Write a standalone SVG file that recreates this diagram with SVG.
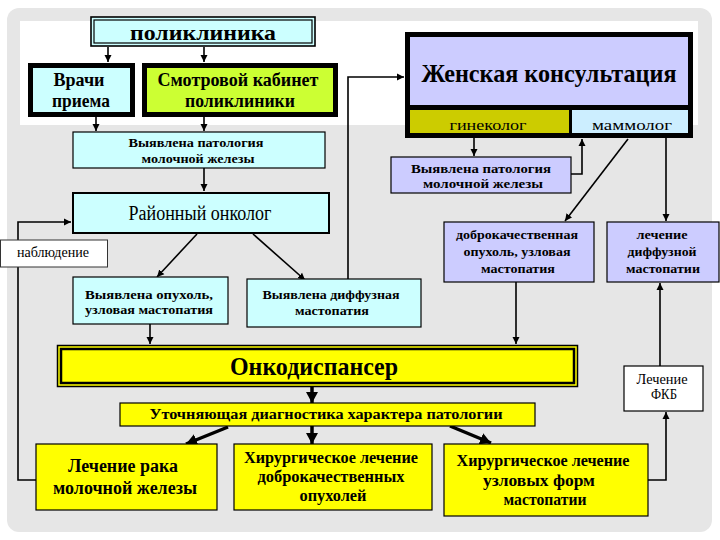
<svg xmlns="http://www.w3.org/2000/svg" width="720" height="540" viewBox="0 0 720 540" font-family="Liberation Serif, DejaVu Serif, serif">
<defs>
<marker id="ah" markerWidth="8" markerHeight="8" refX="7" refY="4" orient="auto" markerUnits="userSpaceOnUse"><path d="M0,0.5 L7,4 L0,7.5 Z" fill="#000"/></marker>
<marker id="ahb" markerWidth="12" markerHeight="12" refX="11" refY="6" orient="auto" markerUnits="userSpaceOnUse"><path d="M0,0 L11,6 L0,12 Z" fill="#000"/></marker>
<style>
text{fill:#000;text-anchor:middle}
.b{font-weight:bold}
.c{stroke:#000;stroke-width:1.6;fill:none}
.ct{stroke:#000;stroke-width:3.5;fill:none}
.thin{stroke:#000;stroke-width:1.2}
.thick{stroke:#000;stroke-width:5}
</style>
</defs>
<rect width="720" height="540" fill="#fff"/>
<rect x="7" y="8" width="705" height="524" rx="12" fill="#e6e6e6"/>
<rect x="20" y="21" width="678" height="104" fill="#fff"/>

<g id="connectors">
<path class="c" d="M108,47 V62" marker-end="url(#ah)"/>
<path class="c" d="M204,47 V62" marker-end="url(#ah)"/>
<path class="c" d="M96,117 V131" marker-end="url(#ah)"/>
<path class="c" d="M204,117 V131" marker-end="url(#ah)"/>
<path class="c" d="M204,168 V191" marker-end="url(#ah)"/>
<path class="c" d="M348,279 V77 H404" marker-end="url(#ah)"/>
<path class="c" d="M474,138 V156" marker-end="url(#ah)"/>
<path class="c" d="M571,174 H582 V139" marker-end="url(#ah)"/>
<path class="c" d="M628,139 L565,221" marker-end="url(#ah)"/>
<path class="c" d="M666,138 V221" marker-end="url(#ah)"/>
<path class="c" d="M197,234 L157,277" marker-end="url(#ah)"/>
<path class="c" d="M253,234 L305,280" marker-end="url(#ah)"/>
<path class="c" d="M150,324 V344" marker-end="url(#ah)"/>
<path class="c" d="M516,282 V344" marker-end="url(#ah)"/>
<path class="c" d="M648,480 H666 V412" marker-end="url(#ah)"/>
<path class="c" d="M660,366 V283" marker-end="url(#ah)"/>
<path class="c" d="M36,480 H18 V222 H71" marker-end="url(#ah)"/>
<path class="ct" d="M312,387 V403" marker-end="url(#ahb)"/>
<path class="ct" d="M312,426 V444" marker-end="url(#ahb)"/>
<path class="ct" d="M228,427 L186,444" marker-end="url(#ahb)"/>
<path class="ct" d="M450,426 L491,443" marker-end="url(#ahb)"/>
</g>

<g id="poliklinika">
<rect x="91" y="17" width="224" height="29" fill="#ccffff" stroke="#000" stroke-width="1.6"/>
<rect x="94" y="20" width="218" height="23" fill="none" stroke="#000" stroke-width="1.2"/>
<text class="b" x="203" y="40" font-size="22" textLength="146" lengthAdjust="spacingAndGlyphs">поликлиника</text>
</g>

<g id="vrachi">
<rect x="30.5" y="65.5" width="102" height="49" fill="#ccffff" class="thick"/>
<text class="b" x="79" y="86" font-size="19" textLength="51" lengthAdjust="spacingAndGlyphs">Врачи</text>
<text class="b" x="81" y="107" font-size="19" textLength="58" lengthAdjust="spacingAndGlyphs">приема</text>
</g>

<g id="smotrovoy">
<rect x="144.5" y="65.5" width="191" height="49" fill="#ccff33" class="thick"/>
<text class="b" x="238" y="86" font-size="18" textLength="161" lengthAdjust="spacingAndGlyphs">Смотровой кабинет</text>
<text class="b" x="240" y="107" font-size="18" textLength="110" lengthAdjust="spacingAndGlyphs">поликлиники</text>
</g>

<g id="patologia-left">
<rect x="73" y="132" width="252" height="36" fill="#ccffff" class="thin"/>
<text class="b" x="196" y="147" font-size="13" textLength="135" lengthAdjust="spacingAndGlyphs">Выявлена патология</text>
<text class="b" x="198" y="163" font-size="13" textLength="113" lengthAdjust="spacingAndGlyphs">молочной железы</text>
</g>

<g id="zhenskaya">
<rect x="407.5" y="34.5" width="283" height="101" fill="#ccccff" class="thick"/>
<rect x="410" y="110" width="160" height="23" fill="#cccc00"/>
<rect x="571" y="110" width="117" height="23" fill="#cceeff"/>
<line x1="407" y1="107.5" x2="691" y2="107.5" stroke="#000" stroke-width="5"/>
<line x1="570.5" y1="108" x2="570.5" y2="135" stroke="#000" stroke-width="3"/>
<text class="b" x="549" y="82" font-size="25" textLength="255" lengthAdjust="spacingAndGlyphs">Женская консультация</text>
<text x="488" y="130" font-size="15" textLength="77" lengthAdjust="spacingAndGlyphs">гинеколог</text>
<text x="632" y="130" font-size="15" textLength="80" lengthAdjust="spacingAndGlyphs">маммолог</text>
</g>

<g id="patologia-right">
<rect x="391" y="157" width="180" height="36" fill="#ccccff" class="thin"/>
<text class="b" x="481" y="173" font-size="13" textLength="140" lengthAdjust="spacingAndGlyphs">Выявлена патология</text>
<text class="b" x="483" y="188" font-size="13" textLength="120" lengthAdjust="spacingAndGlyphs">молочной железы</text>
</g>

<g id="rayonny">
<rect x="73" y="193" width="256" height="40" fill="#ccffff" stroke="#000" stroke-width="2"/>
<text x="200" y="220" font-size="20" textLength="143" lengthAdjust="spacingAndGlyphs">Районный онколог</text>
</g>

<g id="nabludenie">
<rect x="0.5" y="240" width="107" height="27" fill="#fff" stroke="#333" stroke-width="1"/>
<text x="53" y="257" font-size="14" textLength="72" lengthAdjust="spacingAndGlyphs">наблюдение</text>
</g>

<g id="opuhol">
<rect x="73" y="277" width="155" height="47" fill="#ccffff" class="thin"/>
<text class="b" x="149" y="299" font-size="13" textLength="128" lengthAdjust="spacingAndGlyphs">Выявлена  опухоль,</text>
<text class="b" x="149" y="314" font-size="13" textLength="128" lengthAdjust="spacingAndGlyphs">узловая мастопатия</text>
</g>

<g id="diffuznaya">
<rect x="247" y="279" width="174" height="48" fill="#ccffff" class="thin"/>
<text class="b" x="331" y="299" font-size="13" textLength="137" lengthAdjust="spacingAndGlyphs">Выявлена диффузная</text>
<text class="b" x="332" y="315" font-size="13" textLength="74" lengthAdjust="spacingAndGlyphs">мастопатия</text>
</g>

<g id="dobrokach">
<rect x="444" y="222" width="150" height="60" fill="#ccccff" class="thin"/>
<text class="b" x="517" y="239" font-size="13" textLength="122" lengthAdjust="spacingAndGlyphs">доброкачественная</text>
<text class="b" x="517" y="256" font-size="13" textLength="107" lengthAdjust="spacingAndGlyphs">опухоль, узловая</text>
<text class="b" x="518" y="273" font-size="13" textLength="74" lengthAdjust="spacingAndGlyphs">мастопатия</text>
</g>

<g id="lechenie-diff">
<rect x="607" y="222" width="112" height="60" fill="#ccccff" class="thin"/>
<text class="b" x="662" y="239" font-size="13" textLength="51" lengthAdjust="spacingAndGlyphs">лечение</text>
<text class="b" x="662" y="256" font-size="13" textLength="69" lengthAdjust="spacingAndGlyphs">диффузной</text>
<text class="b" x="663" y="273" font-size="13" textLength="74" lengthAdjust="spacingAndGlyphs">мастопатии</text>
</g>

<g id="onkodispanser">
<rect x="57.5" y="345.5" width="520" height="41" fill="#ffff00" stroke="#000" stroke-width="1.5"/>
<rect x="61" y="349" width="513" height="34" fill="none" stroke="#000" stroke-width="2.5"/>
<text class="b" x="314" y="375" font-size="25" textLength="168" lengthAdjust="spacingAndGlyphs">Онкодиспансер</text>
</g>

<g id="fkb">
<rect x="624" y="366" width="79" height="45" fill="#fff" class="thin"/>
<text x="662" y="384" font-size="14" textLength="51" lengthAdjust="spacingAndGlyphs">Лечение</text>
<text x="664" y="399" font-size="14" textLength="26" lengthAdjust="spacingAndGlyphs">ФКБ</text>
</g>

<g id="utochnyayushaya">
<rect x="120" y="403" width="415" height="23" fill="#ffff00" class="thin"/>
<text class="b" x="326" y="419" font-size="15" textLength="353" lengthAdjust="spacingAndGlyphs">Уточняющая диагностика характера патологии</text>
</g>

<g id="lechenie-raka">
<rect x="36" y="444" width="181" height="66" fill="#ffff00" class="thin"/>
<text class="b" x="123" y="472" font-size="18" textLength="110" lengthAdjust="spacingAndGlyphs">Лечение рака</text>
<text class="b" x="125" y="494" font-size="18" textLength="144" lengthAdjust="spacingAndGlyphs">молочной железы</text>
</g>

<g id="hir-dobrokach">
<rect x="234" y="444" width="198" height="66" fill="#ffff00" class="thin"/>
<text class="b" x="331" y="463" font-size="16" textLength="174" lengthAdjust="spacingAndGlyphs">Хирургическое лечение</text>
<text class="b" x="331" y="482" font-size="16" textLength="147" lengthAdjust="spacingAndGlyphs">доброкачественных</text>
<text class="b" x="333" y="501" font-size="16" textLength="67" lengthAdjust="spacingAndGlyphs">опухолей</text>
</g>

<g id="hir-uzlovyh">
<rect x="444" y="444" width="204" height="72" fill="#ffff00" class="thin"/>
<text class="b" x="543" y="466" font-size="16" textLength="173" lengthAdjust="spacingAndGlyphs">Хирургическое лечение</text>
<text class="b" x="539" y="486" font-size="16" textLength="112" lengthAdjust="spacingAndGlyphs">узловых форм</text>
<text class="b" x="545" y="505" font-size="16" textLength="83" lengthAdjust="spacingAndGlyphs">мастопатии</text>
</g>
</svg>
